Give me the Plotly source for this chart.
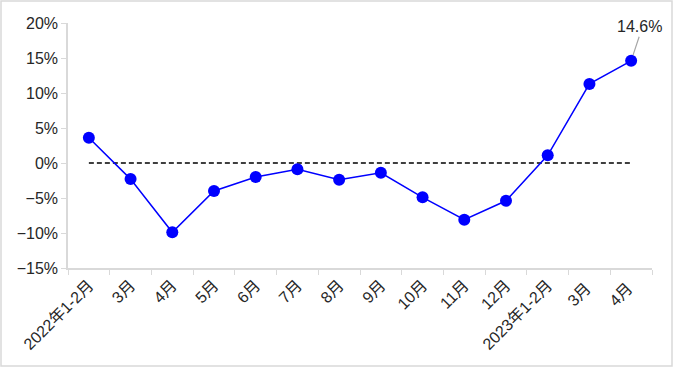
import plotly.graph_objects as go

categories = ["2022年1-2月", "3月", "4月", "5月", "6月", "7月", "8月", "9月",
              "10月", "11月", "12月", "2023年1-2月", "3月 ", "4月 "]
growth = [3.6, -2.3, -9.9, -4.0, -2.0, -0.9, -2.4, -1.4, -4.9, -8.1, -5.4, 1.1, 11.3, 14.6]
baseline = [0] * len(categories)

W, H = 673, 367
ml, mr, mt, mb = 68, 21, 23, 99
pw, ph = W - ml - mr, H - mt - mb
FONT = "Liberation Sans, Arial, Noto Sans CJK SC"

fig = go.Figure()
fig.add_trace(go.Scatter(x=categories, y=baseline, mode="lines",
                         line=dict(color="black", width=1.5, dash="5px,3px"),
                         hoverinfo="skip", showlegend=False))
fig.add_trace(go.Scatter(x=categories, y=growth, mode="lines+markers",
                         line=dict(color="#0000FF", width=1.5),
                         marker=dict(color="#0000FF", size=12),
                         showlegend=False))

fig.add_annotation(x=categories[-1], y=growth[-1], text=f"{growth[-1]}%",
                   showarrow=True, arrowhead=0, arrowcolor="#A6A6A6", arrowwidth=1.2,
                   ax=8, ay=-24, standoff=6, yanchor="bottom",
                   font=dict(family=FONT, size=16, color="#262626"))

# outer frame
fig.add_shape(type="rect", xref="paper", yref="paper",
              x0=(-ml + 1) / pw, x1=(pw + mr - 1) / pw,
              y0=(-mb + 1) / ph, y1=(ph + mt - 1) / ph,
              line=dict(color="#D9D9D9", width=1.5), layer="below")

fig.update_layout(
    width=W, height=H,
    margin=dict(l=ml, r=mr, t=mt, b=mb),
    plot_bgcolor="white", paper_bgcolor="white",
    font=dict(family=FONT, size=16, color="#262626"),
    xaxis=dict(type="category", tickangle=-45, showgrid=False, showline=True,
               linecolor="#D9D9D9", linewidth=1.5, ticks="outside", tickson="boundaries",
               tickcolor="#D9D9D9", ticklen=5, range=[-0.5, len(categories) - 0.5],
               tickfont=dict(size=16), automargin=False),
    yaxis=dict(range=[-15, 20], dtick=5, ticksuffix="%", showgrid=False, showline=True,
               linecolor="#D9D9D9", linewidth=1.5, ticks="outside", tickcolor="#D9D9D9",
               ticklen=5, zeroline=False, tickfont=dict(size=16), automargin=False),
)

fig.write_html("out.html", config={"displayModeBar": False},
               post_script="document.body.style.margin='0';document.body.style.overflow='hidden';")
